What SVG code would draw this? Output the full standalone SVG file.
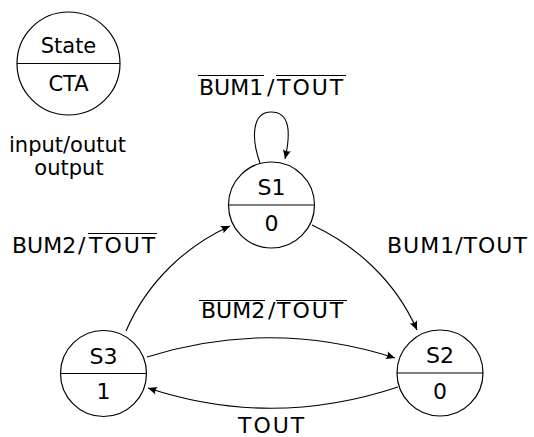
<svg xmlns="http://www.w3.org/2000/svg" width="534" height="437" viewBox="0 0 534 437">
<style>
text{font-family:"DejaVu Sans","Liberation Sans",sans-serif;font-size:22px;fill:#000}
.c{text-anchor:middle}
.lg{font-size:21px}
.st{fill:#fff;stroke:#000;stroke-width:1.2}
.dv{stroke:#000;stroke-width:1.2}
.e{fill:none;stroke:#000;stroke-width:1.1}
.ol{stroke:#000;stroke-width:1.1}
.w{letter-spacing:2px}
</style>
<defs>
<marker id="arr" viewBox="-10 -5 11 10" refX="0" refY="0" markerWidth="11" markerHeight="10" markerUnits="userSpaceOnUse" orient="auto">
<path d="M0,0 L-9,-4 Q-6.5,0 -9,4 Z" fill="#000"/>
</marker>
</defs>

<g id="legend">
<circle class="st" cx="68.5" cy="63.5" r="51.5"/>
<line class="dv" x1="17" y1="63.5" x2="120" y2="63.5"/>
<text class="c lg" x="68.5" y="53">State</text>
<text class="c lg" x="68.5" y="91">CTA</text>
<text class="c lg" x="67.5" y="152">input/outut</text>
<text class="c lg" x="69" y="175">output</text>
</g>

<g id="connectors">
<path class="e" d="M260,163 C251,138 252,112 271,112 C290,112 291,132 285,159" marker-end="url(#arr)"/>
<path class="e" d="M312,225 C355,245 395,280 417,330" marker-end="url(#arr)"/>
<path class="e" d="M126,331 C148,280 188,245 230,226" marker-end="url(#arr)"/>
<path class="e" d="M147,357 Q271,318 395,358" marker-end="url(#arr)"/>
<path class="e" d="M398,387 Q272,429 148,388" marker-end="url(#arr)"/>
</g>

<g id="label-loop">
<text y="95"><tspan x="199">BUM1</tspan><tspan x="267">/</tspan><tspan x="277" class="w">TOUT</tspan></text>
<line class="ol" x1="198" y1="75.5" x2="264" y2="75.5"/>
<line class="ol" x1="276" y1="75.5" x2="346" y2="75.5"/>
</g>
<g id="label-s3s1">
<text y="253"><tspan x="12">BUM2</tspan><tspan x="78">/</tspan><tspan x="89" class="w">TOUT</tspan></text>
<line class="ol" x1="88" y1="233.5" x2="157" y2="233.5"/>
</g>
<g id="label-s1s2">
<text x="387" y="253" style="letter-spacing:1px">BUM1/TOUT</text>
</g>
<g id="label-s3s2">
<text y="318"><tspan x="201">BUM2</tspan><tspan x="268">/</tspan><tspan x="277" class="w">TOUT</tspan></text>
<line class="ol" x1="199" y1="300.5" x2="265" y2="300.5"/>
<line class="ol" x1="276" y1="300.5" x2="347" y2="300.5"/>
</g>
<g id="label-s2s3">
<text x="238" y="433" class="w">TOUT</text>
</g>

<g id="S1">
<circle class="st" cx="271.5" cy="205" r="43"/>
<line class="dv" x1="228.5" y1="205" x2="314.5" y2="205"/>
<text class="c" x="271.5" y="195">S1</text>
<text class="c" x="271.5" y="230.5">0</text>
</g>
<g id="S2">
<circle class="st" cx="440" cy="373" r="43"/>
<line class="dv" x1="397" y1="373" x2="483" y2="373"/>
<text class="c" x="440" y="363">S2</text>
<text class="c" x="440" y="398.5">0</text>
</g>
<g id="S3">
<circle class="st" cx="103.5" cy="373.5" r="43"/>
<line class="dv" x1="60.5" y1="373.5" x2="146.5" y2="373.5"/>
<text class="c" x="103.5" y="363.5">S3</text>
<text class="c" x="103.5" y="399">1</text>
</g>
</svg>
